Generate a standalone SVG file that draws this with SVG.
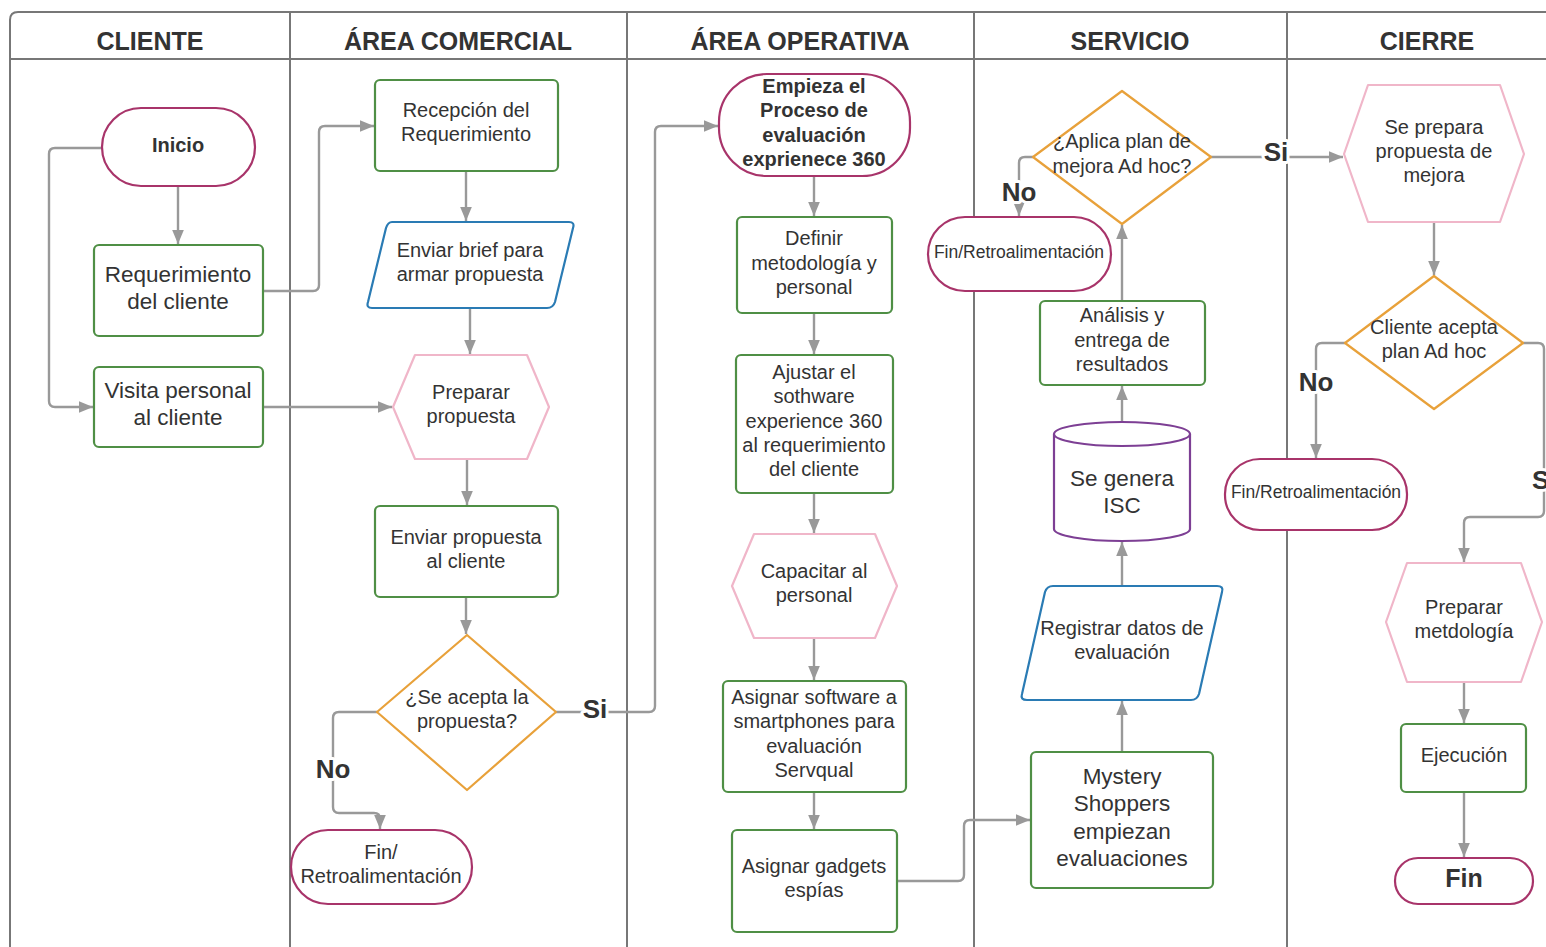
<svg xmlns="http://www.w3.org/2000/svg" width="1546" height="947" viewBox="0 0 1546 947">
<style>
text{font-family:"Liberation Sans",Arial,sans-serif;fill:#333;text-anchor:middle}
.h{font-size:25px;font-weight:bold}
.t17{font-size:20px}
.t20{font-size:22.5px}
.t15{font-size:17.5px}
.b{font-weight:bold}
.lab{font-size:26px;font-weight:bold;stroke:#fff;stroke-width:6;paint-order:stroke;stroke-linejoin:round}
.lane{stroke:#777;stroke-width:2;fill:none}
.proc{fill:#fff;stroke:#4f8f45;stroke-width:2.2}
.term{fill:#fff;stroke:#a8346a;stroke-width:2.2}
.hex{fill:#fff;stroke:#f0b6c9;stroke-width:2.2;stroke-linejoin:round}
.dec{fill:#fff;stroke:#e8a13a;stroke-width:2.2;stroke-linejoin:round}
.io{fill:#fff;stroke:#2a7bb4;stroke-width:2.2;stroke-linejoin:round}
.db{fill:#fff;stroke:#7d3f94;stroke-width:2.2}
.c{fill:none;stroke:#999;stroke-width:2.4}
.ca{fill:none;stroke:#999;stroke-width:2.4;marker-end:url(#ah)}
</style>
<defs>
<marker id="ah" viewBox="0 0 12 10" refX="12" refY="5" markerWidth="14" markerHeight="12" markerUnits="userSpaceOnUse" orient="auto">
<path d="M0,0 L12,5 L0,10 z" fill="#999"/>
</marker>
</defs>
<rect width="1546" height="947" fill="#fff"/>
<g id="lanes">
<path class="lane" d="M10,947 V20 Q10,12 18,12 H1546"/>
<path class="lane" d="M10,59 H1546"/>
<path class="lane" d="M290,12 V947 M627,12 V947 M974,12 V947 M1287,12 V947"/>
<text class="h" x="150" y="50">CLIENTE</text>
<text class="h" x="458" y="50">ÁREA COMERCIAL</text>
<text class="h" x="800" y="50">ÁREA OPERATIVA</text>
<text class="h" x="1130" y="50">SERVICIO</text>
<text class="h" x="1427" y="50">CIERRE</text>
</g>
<g id="connectors">
<path class="ca" d="M178,186 V244"/>
<path class="ca" d="M102,148 H55 Q49,148 49,154 V401 Q49,407 55,407 H93"/>
<path class="ca" d="M263,291 H313 Q319,291 319,285 V132 Q319,126 325,126 H374"/>
<path class="ca" d="M466,171 V221"/>
<path class="ca" d="M470,308 V354"/>
<path class="ca" d="M263,407 H392"/>
<path class="ca" d="M467,459 V505"/>
<path class="ca" d="M466,597 V634"/>
<path class="ca" d="M377,712 H339 Q333,712 333,718 V807 Q333,813 339,813 H374 Q380,813 380,819 V829"/>
<path class="ca" d="M556,712 H649 Q655,712 655,706 V132 Q655,126 661,126 H718"/>
<path class="ca" d="M814,176 V216"/>
<path class="ca" d="M814,313 V354"/>
<path class="ca" d="M814,493 V533"/>
<path class="ca" d="M814,638 V680"/>
<path class="ca" d="M814,792 V829"/>
<path class="ca" d="M897,881 H958 Q964,881 964,875 V826 Q964,820 970,820 H1030"/>
<path class="ca" d="M1122,752 V701"/>
<path class="ca" d="M1122,586 V542"/>
<path class="ca" d="M1122,422 V386"/>
<path class="ca" d="M1122,301 V225"/>
<path class="ca" d="M1033,157 H1025 Q1019,157 1019,163 V216"/>
<path class="ca" d="M1211,157 H1343"/>
<path class="ca" d="M1434,222 V275"/>
<path class="ca" d="M1345,343 H1322 Q1316,343 1316,349 V458"/>
<path class="ca" d="M1523,343 H1538 Q1544,343 1544,349 V511 Q1544,517 1538,517 H1470 Q1464,517 1464,523 V562"/>
<path class="ca" d="M1464,682 V723"/>
<path class="ca" d="M1464,792 V857"/>
<text class="lab" x="333" y="778">No</text>
<text class="lab" x="595" y="718">Si</text>
<text class="lab" x="1019" y="201">No</text>
<text class="lab" x="1276" y="161">Si</text>
<text class="lab" x="1316" y="391">No</text>
<text class="lab" x="1532" y="489" style="text-anchor:start">Si</text>
</g>
<g id="n-inicio"><rect class="term" x="102" y="108" width="153" height="78" rx="39"/><text class="b" style="font-size:20px" x="178" y="152">Inicio</text></g>
<g id="n-req"><rect class="proc" x="94" y="245" width="169" height="91" rx="5"/><text class="t20" x="178" y="282">Requerimiento</text><text class="t20" x="178" y="309">del cliente</text></g>
<g id="n-visita"><rect class="proc" x="94" y="367" width="169" height="80" rx="5"/><text class="t20" x="178" y="398">Visita personal</text><text class="t20" x="178" y="425">al cliente</text></g>
<g id="n-recepcion"><rect class="proc" x="375" y="80" width="183" height="91" rx="5"/><text class="t17" x="466" y="117">Recepción del</text><text class="t17" x="466" y="141">Requerimiento</text></g>
<g id="n-brief"><path class="io" d="M392,222 H569 Q575,222 573,228 L555,302 Q553,308 547,308 H372 Q366,308 368,302 L386,228 Q388,222 392,222 Z"/><text class="t17" x="470" y="257">Enviar brief para</text><text class="t17" x="470" y="281">armar propuesta</text></g>
<g id="n-preparar"><polygon class="hex" points="415,355 527,355 549,407 527,459 415,459 393,407"/><text class="t17" x="471" y="399">Preparar</text><text class="t17" x="471" y="423">propuesta</text></g>
<g id="n-enviar"><rect class="proc" x="375" y="506" width="183" height="91" rx="5"/><text class="t17" x="466" y="544">Enviar propuesta</text><text class="t17" x="466" y="568">al cliente</text></g>
<g id="n-acepta"><polygon class="dec" points="467,635 556,712 467,790 377,712"/><text class="t17" x="467" y="704">¿Se acepta la</text><text class="t17" x="467" y="728">propuesta?</text></g>
<g id="n-fin1"><rect class="term" x="291" y="830" width="181" height="74" rx="37"/><text class="t17" x="381" y="859">Fin/</text><text class="t17" x="381" y="883">Retroalimentación</text></g>
<g id="n-empieza"><rect class="term" x="719" y="74" width="191" height="102" rx="48"/><text class="t17 b" x="814" y="93">Empieza el</text><text class="t17 b" x="814" y="117">Proceso de</text><text class="t17 b" x="814" y="142">evaluación</text><text class="t17 b" x="814" y="166">exprienece 360</text></g>
<g id="n-definir"><rect class="proc" x="737" y="217" width="155" height="96" rx="5"/><text class="t17" x="814" y="245">Definir</text><text class="t17" x="814" y="270">metodología y</text><text class="t17" x="814" y="294">personal</text></g>
<g id="n-ajustar"><rect class="proc" x="736" y="355" width="157" height="138" rx="5"/><text class="t17" x="814" y="379">Ajustar el</text><text class="t17" x="814" y="403">sothware</text><text class="t17" x="814" y="428">experience 360</text><text class="t17" x="814" y="452">al requerimiento</text><text class="t17" x="814" y="476">del cliente</text></g>
<g id="n-capacitar"><polygon class="hex" points="754,534 875,534 897,586 875,638 754,638 732,586"/><text class="t17" x="814" y="578">Capacitar al</text><text class="t17" x="814" y="602">personal</text></g>
<g id="n-software"><rect class="proc" x="723" y="681" width="183" height="111" rx="5"/><text class="t17" x="814" y="704">Asignar software a</text><text class="t17" x="814" y="728">smartphones para</text><text class="t17" x="814" y="753">evaluación</text><text class="t17" x="814" y="777">Servqual</text></g>
<g id="n-gadgets"><rect class="proc" x="732" y="830" width="165" height="102" rx="5"/><text class="t17" x="814" y="873">Asignar gadgets</text><text class="t17" x="814" y="897">espías</text></g>
<g id="n-aplica"><polygon class="dec" points="1122,91 1211,157 1122,224 1033,157"/><text class="t17" x="1122" y="148">¿Aplica plan de</text><text class="t17" x="1122" y="173">mejora Ad hoc?</text></g>
<g id="n-fin2"><rect class="term" x="928" y="217" width="183" height="74" rx="37"/><text class="t15" x="1019" y="258">Fin/Retroalimentación</text></g>
<g id="n-analisis"><rect class="proc" x="1040" y="301" width="165" height="84" rx="5"/><text class="t17" x="1122" y="322">Análisis y</text><text class="t17" x="1122" y="347">entrega de</text><text class="t17" x="1122" y="371">resultados</text></g>
<g id="n-isc"><path class="db" d="M1054,434 A68,12 0 0 1 1190,434 V529 A68,12 0 0 1 1054,529 Z"/><path class="db" d="M1054,434 A68,12 0 0 0 1190,434" fill="none"/><text class="t20" x="1122" y="486">Se genera</text><text class="t20" x="1122" y="513">ISC</text></g>
<g id="n-registrar"><path class="io" d="M1053,586 H1217 Q1224,586 1222,592 L1199,694 Q1197,700 1191,700 H1027 Q1020,700 1022,694 L1045,592 Q1047,586 1053,586 Z"/><text class="t17" x="1122" y="635">Registrar datos de</text><text class="t17" x="1122" y="659">evaluación</text></g>
<g id="n-mystery"><rect class="proc" x="1031" y="752" width="182" height="136" rx="5"/><text class="t20" x="1122" y="784">Mystery</text><text class="t20" x="1122" y="811">Shoppers</text><text class="t20" x="1122" y="839">empiezan</text><text class="t20" x="1122" y="866">evaluaciones</text></g>
<g id="n-seprepara"><polygon class="hex" points="1368,85 1500,85 1524,154 1500,222 1368,222 1344,154"/><text class="t17" x="1434" y="134">Se prepara</text><text class="t17" x="1434" y="158">propuesta de</text><text class="t17" x="1434" y="182">mejora</text></g>
<g id="n-cliacepta"><polygon class="dec" points="1434,276 1523,343 1434,409 1345,343"/><text class="t17" x="1434" y="334">Cliente acepta</text><text class="t17" x="1434" y="358">plan Ad hoc</text></g>
<g id="n-fin3"><rect class="term" x="1225" y="459" width="182" height="71" rx="35"/><text class="t15" x="1316" y="498">Fin/Retroalimentación</text></g>
<g id="n-metodologia"><polygon class="hex" points="1407,563 1521,563 1542,622 1521,682 1407,682 1386,622"/><text class="t17" x="1464" y="614">Preparar</text><text class="t17" x="1464" y="638">metdología</text></g>
<g id="n-ejecucion"><rect class="proc" x="1401" y="724" width="125" height="68" rx="5"/><text class="t17" x="1464" y="762">Ejecución</text></g>
<g id="n-fin"><rect class="term" x="1395" y="858" width="138" height="46" rx="23"/><text class="b" style="font-size:25px" x="1464" y="887">Fin</text></g>
</svg>
